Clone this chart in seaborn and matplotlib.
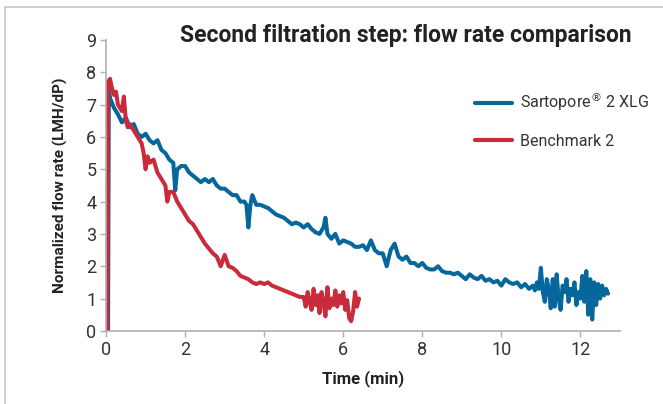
import pandas as pd
import matplotlib.pyplot as plt
import seaborn as sns
from matplotlib.patches import Rectangle

# Data
blue_time = [0.05, 0.07, 0.1, 0.2, 0.3, 0.4, 0.5, 0.6, 0.7, 0.8, 0.9, 1.0, 1.1, 1.2, 1.3,
             1.4, 1.5, 1.6, 1.7, 1.75, 1.8, 1.9, 2.0, 2.1, 2.2, 2.3, 2.4, 2.5, 2.6, 2.7,
             2.8, 2.9, 3.0, 3.1, 3.2, 3.3, 3.4, 3.5, 3.55, 3.6, 3.65, 3.7, 3.8, 3.9, 4.0,
             4.1, 4.2, 4.3, 4.4, 4.5, 4.6, 4.7, 4.8, 4.9, 5.0, 5.1, 5.2, 5.3, 5.4, 5.5,
             5.55, 5.6, 5.7, 5.8, 5.9, 6.0, 6.1, 6.2, 6.3, 6.4, 6.5, 6.6, 6.7, 6.8, 6.9,
             7.0, 7.1, 7.2, 7.3, 7.4, 7.5, 7.6, 7.7, 7.8, 7.9, 8.0, 8.1, 8.2, 8.3, 8.4,
             8.5, 8.6, 8.7, 8.8, 8.9, 9.0, 9.1, 9.2, 9.3, 9.4, 9.5, 9.6, 9.7, 9.8, 9.9,
             10.0, 10.1, 10.2, 10.3, 10.4, 10.5, 10.6, 10.7, 10.8, 10.85,
             10.9, 10.95, 11.0, 11.05, 11.1, 11.15, 11.2, 11.25, 11.3, 11.35, 11.4, 11.45,
             11.5, 11.55, 11.6, 11.65, 11.7, 11.75, 11.8, 11.85, 11.9, 11.95, 12.0, 12.05,
             12.1, 12.15, 12.2, 12.25, 12.3, 12.35, 12.4, 12.45, 12.5, 12.55, 12.6, 12.65,
             12.7]
blue_flow = [0.0, 7.5, 7.2, 6.9, 6.7, 6.45, 6.6, 6.3, 6.4, 6.1, 6.0, 6.1, 5.9, 5.8, 5.9,
             5.6, 5.5, 5.3, 5.2, 4.35, 5.0, 5.1, 5.1, 4.9, 4.8, 4.7, 4.6, 4.7, 4.6, 4.7,
             4.5, 4.4, 4.4, 4.3, 4.2, 4.2, 4.0, 4.0, 3.9, 3.2, 3.9, 4.2, 3.9, 3.9, 3.85,
             3.8, 3.7, 3.6, 3.55, 3.5, 3.4, 3.3, 3.35, 3.3, 3.2, 3.3, 3.15, 3.05, 3.0, 3.2,
             3.5, 3.0, 2.85, 3.0, 2.7, 2.8, 2.75, 2.7, 2.6, 2.6, 2.65, 2.5, 2.8, 2.5, 2.4,
             2.4, 2.0, 2.5, 2.7, 2.3, 2.2, 2.3, 2.1, 2.1, 2.0, 2.1, 1.95, 1.9, 1.9, 2.0,
             1.85, 1.8, 1.8, 1.75, 1.8, 1.7, 1.6, 1.75, 1.65, 1.6, 1.7, 1.55, 1.6, 1.5, 1.55,
             1.4, 1.6, 1.5, 1.45, 1.5, 1.35, 1.45, 1.3, 1.4, 1.25,
             1.5, 1.3, 1.95, 1.2, 0.9, 1.6, 1.3, 0.7, 1.6, 0.75, 1.75, 1.0,
             0.65, 1.4, 1.2, 1.6, 0.9, 1.3, 1.1, 1.5, 0.8, 1.2, 1.0, 1.7,
             0.9, 1.85, 0.5, 1.6, 0.35, 1.5, 0.8, 1.45, 1.0, 1.4, 1.1, 1.3,
             1.15]

red_time = [0.03, 0.05, 0.1, 0.15, 0.2, 0.25, 0.3, 0.35, 0.4, 0.45, 0.5, 0.55, 0.6, 0.7,
            0.8, 0.9, 0.95, 1.0, 1.05, 1.1, 1.2, 1.3, 1.4, 1.5, 1.55, 1.6, 1.7, 1.8, 1.9,
            2.0, 2.1, 2.2, 2.3, 2.4, 2.5, 2.6, 2.7, 2.8, 2.9, 3.0, 3.1, 3.2, 3.3, 3.4, 3.5,
            3.6, 3.7, 3.8, 3.9, 4.0, 4.1, 4.2, 4.3, 4.4, 4.5, 4.6, 4.7, 4.8, 4.9,
            5.0, 5.05, 5.1, 5.15, 5.2, 5.25, 5.3, 5.35, 5.4, 5.45, 5.5, 5.55, 5.6, 5.65,
            5.7, 5.75, 5.8, 5.85, 5.9, 5.95, 6.0, 6.05, 6.1, 6.15, 6.2, 6.25, 6.3, 6.35,
            6.4]
red_flow = [0.0, 7.7, 7.8, 7.5, 7.3, 7.4, 7.0, 6.9, 6.8, 7.25, 6.5, 6.3, 6.4, 6.2,
            6.0, 5.8, 5.5, 5.0, 5.4, 5.2, 5.3, 4.9, 4.7, 4.5, 4.0, 4.3, 4.3, 4.0, 3.8,
            3.6, 3.4, 3.3, 3.1, 2.9, 2.7, 2.55, 2.4, 2.3, 2.0, 2.35, 2.0, 1.95, 1.85, 1.7, 1.65,
            1.6, 1.5, 1.45, 1.5, 1.45, 1.5, 1.4, 1.35, 1.3, 1.25, 1.2, 1.15, 1.1, 1.05,
            1.05, 0.75, 1.2, 0.9, 0.65, 1.3, 0.8, 1.1, 0.55, 1.2, 0.9, 0.45, 1.35, 0.7,
            1.0, 0.8, 1.25, 0.75, 1.1, 0.85, 1.2, 0.65, 0.95, 0.4, 0.3, 0.6, 1.2, 0.75,
            1.0]

series_names = ["Sartopore$^{\u00ae}$ 2 XLG", "Benchmark 2"]
colors = ["#05679c", "#c92b3a"]

df = pd.concat([
    pd.DataFrame({"time": blue_time, "flow": blue_flow, "filter": series_names[0]}),
    pd.DataFrame({"time": red_time, "flow": red_flow, "filter": series_names[1]}),
])

sns.set_style("white")
plt.rcParams["font.family"] = ["Roboto", "DejaVu Sans"]

fig = plt.figure(figsize=(6.63, 4.04), dpi=100)
ax = fig.add_axes([0.16, 0.181, 0.775, 0.72])

sns.lineplot(data=df, x="time", y="flow", hue="filter", palette=colors,
             estimator=None, sort=False, linewidth=2.9, ax=ax)

ax.set_xlim(0, 13)
ax.set_ylim(0, 9)
ax.set_xticks(range(0, 13, 2))
ax.set_yticks(range(0, 10))
for s in ["top", "right"]:
    ax.spines[s].set_visible(False)
for s in ["left", "bottom"]:
    ax.spines[s].set_color("#b0b0b0")
    ax.spines[s].set_linewidth(1.2)
ax.tick_params(axis="both", direction="out", length=4, width=1, color="#b0b0b0",
               labelsize=13, labelcolor="#333333", pad=3, left=True, bottom=True)

ax.set_xlabel("Time (min)", fontsize=12, fontweight="bold", color="#222222", labelpad=8)
ax.set_ylabel("Normalized flow rate (LMH/dP)", fontsize=11, fontweight="bold",
              color="#222222", labelpad=13)

leg = ax.legend(loc="upper left", bbox_to_anchor=(0.718, 0.825), frameon=False,
                fontsize=11.5, handlelength=2.3, handletextpad=0.5, labelspacing=1.3,
                borderpad=0, borderaxespad=0)
for line in leg.get_lines():
    line.set_linewidth(3)
for t in leg.get_texts():
    t.set_color("#333333")

fig.text(0.952, 0.895, "Second filtration step: flow rate comparison", ha="right",
         fontsize=16.5, fontweight="bold", color="#222222")

# thin frame around the figure
fig.patches.append(Rectangle((0.008, -0.1), 1.1, 1.082, transform=fig.transFigure,
                             fill=False, edgecolor="#c8c8c8", linewidth=1.2))

fig.savefig("out.png", dpi=100)
